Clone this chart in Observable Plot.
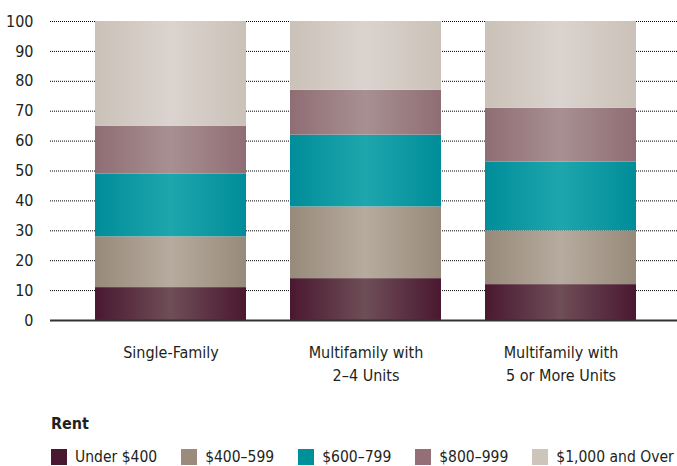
<!DOCTYPE html>
<html>
<head>
<meta charset="utf-8">
<script src="https://cdn.jsdelivr.net/npm/d3@7"></script>
<script src="https://cdn.jsdelivr.net/npm/@observablehq/plot@0.6"></script>
<style>
  html, body { margin: 0; background: #fff; overflow: hidden; font-family: "DejaVu Sans Condensed", "Liberation Sans Narrow", sans-serif; color: #231f20; }
  #chart svg { display: block; }
  #legend-title { margin: 22px 0 0 51px; font-weight: bold; font-size: 16px; }
  #legend { display: flex; align-items: center; margin: 15px 0 0 51px; font-size: 15.5px; white-space: nowrap; }
  .item { display: flex; align-items: center; margin-right: 24px; }
  .sw { width: 16px; height: 16px; margin-right: 8px; flex: none; }
</style>
</head>
<body>
<div id="chart"></div>
<div id="legend-title">Rent</div>
<div id="legend"></div>
<script>
const categories = ["Single-Family", "Multifamily with\n2–4 Units", "Multifamily with\n5 or More Units"];
const series = ["Under $400", "$400–599", "$600–799", "$800–999", "$1,000 and Over"];
const under400 = [11, 14, 12];
const r400 = [17, 24, 18];
const r600 = [21, 24, 23];
const r800 = [16, 15, 18];
const over1000 = [35, 23, 29];
const yTicks = [0, 10, 20, 30, 40, 50, 60, 70, 80, 90, 100];

const edgeColors = ["#4a1830", "#978a7a", "#008d99", "#8f6d74", "#cac1b8"];
const centerColors = ["#6e4e57", "#b7ab9f", "#1ea6ad", "#a89092", "#dbd3ce"];
const swatchColors = ["#4a1830", "#9a8b7c", "#009099", "#946f77", "#cdc4ba"];

const cols = [under400, r400, r600, r800, over1000];
const data = [];
categories.forEach((c, i) => series.forEach((s, j) => data.push({category: c, series: s, value: cols[j][i]})));

const urls = series.map((s, j) => `url(#grad${j})`);

const plot = Plot.plot({
  width: 677,
  height: 392,
  marginLeft: 50,
  marginRight: 0,
  marginTop: 21,
  marginBottom: 72,
  style: {fontFamily: '"DejaVu Sans Condensed", "Liberation Sans Narrow", sans-serif', color: "#231f20", background: "#fff"},
  x: {domain: categories, paddingInner: 0.2256, paddingOuter: 0.22, align: 0.52, label: null},
  y: {domain: [0, 100], label: null},
  color: {domain: series, range: urls},
  marks: [
    Plot.ruleY(yTicks.filter(d => d > 0), {stroke: "#000", strokeWidth: 1, strokeDasharray: "1,1"}),
    Plot.barY(data, Plot.stackY({x: "category", y: "value", fill: "series", order: series})),
    Plot.ruleY([0], {stroke: "#333", strokeWidth: 2}),
    Plot.axisY({ticks: yTicks, tickSize: 0, tickPadding: 17, fontSize: 16, label: null}),
    Plot.axisX({tickSize: 0, tickPadding: 22, fontSize: 16, lineHeight: 1.4, label: null})
  ]
});

const svg = d3.select(plot);
const defs = svg.insert("defs", ":first-child");
series.forEach((s, j) => {
  const g = defs.append("linearGradient").attr("id", `grad${j}`).attr("x1", "0").attr("x2", "1").attr("y1", "0").attr("y2", "0");
  g.append("stop").attr("offset", "0%").attr("stop-color", edgeColors[j]);
  g.append("stop").attr("offset", "50%").attr("stop-color", centerColors[j]);
  g.append("stop").attr("offset", "100%").attr("stop-color", edgeColors[j]);
});
document.getElementById("chart").appendChild(plot);

const legend = d3.select("#legend");
series.forEach((s, j) => {
  const it = legend.append("div").attr("class", "item");
  it.append("div").attr("class", "sw").style("background", swatchColors[j]);
  it.append("span").text(s);
});
</script>
</body>
</html>
